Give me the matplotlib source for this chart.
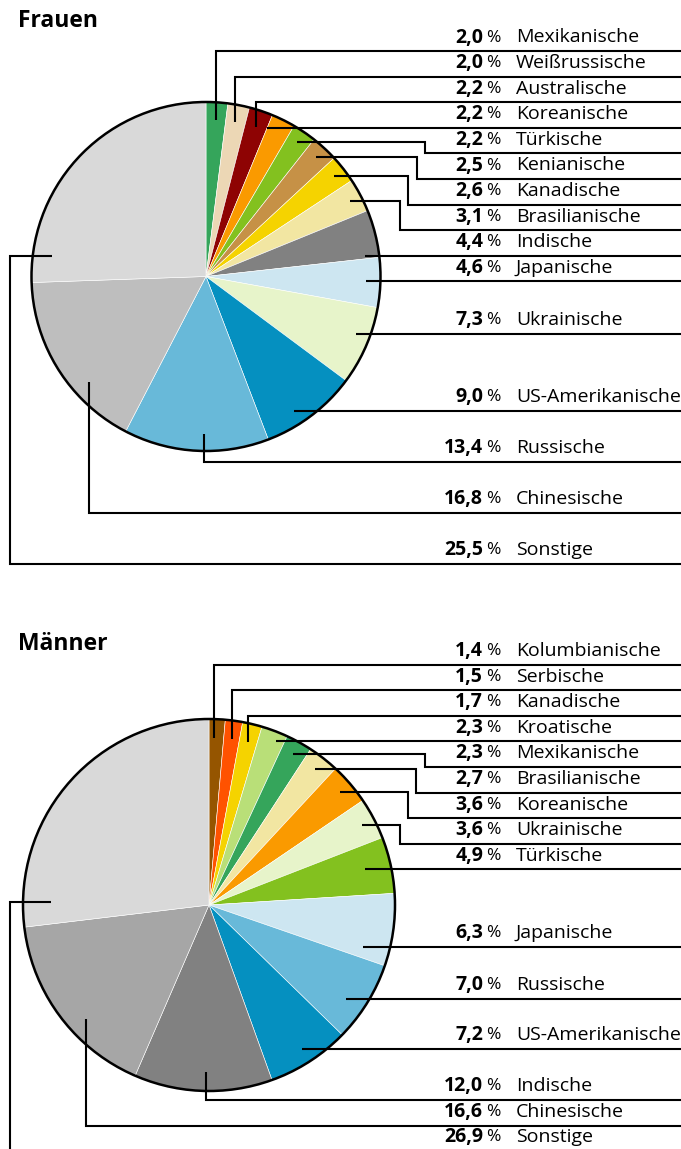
import numpy as np
import matplotlib.pyplot as plt
from matplotlib.patches import Circle

W, H = 681, 1149

# Frauen
frauen_labels = ['Mexikanische', 'Weißrussische', 'Australische', 'Koreanische', 'Türkische',
                 'Kenianische', 'Kanadische', 'Brasilianische', 'Indische', 'Japanische',
                 'Ukrainische', 'US-Amerikanische', 'Russische', 'Chinesische', 'Sonstige']
frauen_values = [2.0, 2.0, 2.2, 2.2, 2.2, 2.5, 2.6, 3.1, 4.4, 4.6, 7.3, 9.0, 13.4, 16.8, 25.5]
frauen_colors = ['#35a55b', '#ecd7b5', '#8e0303', '#fa9a00', '#83c11f', '#c69146', '#f5d300',
                 '#f2e6a2', '#818181', '#cde6f1', '#e7f4ca', '#0590c0', '#68b9d9', '#bebebe', '#d9d9d9']

# Männer
maenner_labels = ['Kolumbianische', 'Serbische', 'Kanadische', 'Kroatische', 'Mexikanische',
                  'Brasilianische', 'Koreanische', 'Ukrainische', 'Türkische', 'Japanische',
                  'Russische', 'US-Amerikanische', 'Indische', 'Chinesische', 'Sonstige']
maenner_values = [1.4, 1.5, 1.7, 2.3, 2.3, 2.7, 3.6, 3.6, 4.9, 6.3, 7.0, 7.2, 12.0, 16.6, 26.9]
maenner_colors = ['#955500', '#ff5200', '#f5d300', '#b9df78', '#35a55b', '#f2e6a2', '#fa9a00',
                  '#e7f4ca', '#83c11f', '#cde6f1', '#68b9d9', '#0590c0', '#818181', '#a6a6a6', '#d9d9d9']

# leader routing (same pattern in both charts)
routes = ['vert', 'vert', 'vert', 'flat', 'elbow', 'elbow', 'elbow', 'elbow',
          'flat', 'flat', 'flat', 'flat', 'vert', 'vert', 'elbow']
rho_default = {'vert': 0.9, 'flat': 0.92, 'elbow': 0.93}

charts = [
    dict(title='Frauen', labels=frauen_labels, values=frauen_values, colors=frauen_colors,
         center=(206, 276.5), radius=174.5, title_y=21,
         rows=[37.5 + 25.6 * i for i in range(10)] + [320, 397, 448, 499, 550],
         elbow_x={4: 425, 5: 417, 6: 408, 7: 400, 14: 10},
         t={12: 0.45, 13: 0.34, 14: 0.105}, rho={14: 0.89}),
    dict(title='Männer', labels=maenner_labels, values=maenner_values, colors=maenner_colors,
         center=(209, 905), radius=186, title_y=644,
         rows=[651 + 25.6 * i for i in range(9)] + [933, 985, 1035, 1086, 1112, 1137],
         elbow_x={4: 425, 5: 416, 6: 408, 7: 400, 14: 10},
         t={0: 0.35, 12: 0.48, 13: 0.4, 14: 0.08},
         rho={3: 0.95, 8: 0.86, 9: 0.86, 10: 0.89, 14: 0.85}),
]

plt.rcParams['font.family'] = ['Open Sans', 'DejaVu Sans']

fig = plt.figure(figsize=(W / 100, H / 100), dpi=100)
ax = fig.add_axes([0, 0, 1, 1])

for ch in charts:
    cx, cy = ch['center']
    r = ch['radius']
    wedges, _ = ax.pie(ch['values'], colors=ch['colors'], startangle=-90, counterclock=True,
                       center=(cx, cy), radius=r,
                       wedgeprops=dict(linewidth=0.4, edgecolor='white'))
    ax.add_patch(Circle((cx, cy), r, fill=False, ec='black', lw=1.8, zorder=3))

    ax.text(18, ch['title_y'], ch['title'], fontsize=16.5, fontweight='bold',
            ha='left', va='center')

    for i, (w, lab, val) in enumerate(zip(wedges, ch['labels'], ch['values'])):
        ty = ch['rows'][i]
        ly = ty + 13.5
        route = routes[i]
        t = ch['t'].get(i, 0.5)
        rr = ch['rho'].get(i, rho_default[route]) * r
        ang = np.deg2rad(w.theta1 + t * (w.theta2 - w.theta1))
        if route == 'flat':
            # start where the label line meets a circle slightly inside the pie
            sx = cx + np.sqrt(max(rr ** 2 - (ly - cy) ** 2, 0))
            xs, ys = [sx, W], [ly, ly]
        elif route == 'vert':
            px, py = cx + rr * np.cos(ang), cy + rr * np.sin(ang)
            xs, ys = [px, px, W], [py, ly, ly]
        else:
            px, py = cx + rr * np.cos(ang), cy + rr * np.sin(ang)
            ex = ch['elbow_x'][i]
            xs, ys = [px, ex, ex, W], [py, py, ly, ly]
        ax.plot(xs, ys, color='black', lw=1.5, solid_joinstyle='miter',
                solid_capstyle='butt', zorder=4)

        ax.text(483, ty, f'{val:.1f}'.replace('.', ','), fontsize=14, fontweight='bold',
                ha='right', va='center')
        ax.text(486, ty, '%', fontsize=12.5, ha='left', va='center')
        ax.text(516, ty, lab, fontsize=14, ha='left', va='center')

ax.set_xlim(0, W)
ax.set_ylim(H, 0)
ax.set_aspect('auto')
ax.axis('off')

fig.savefig('out.png', dpi=100)
